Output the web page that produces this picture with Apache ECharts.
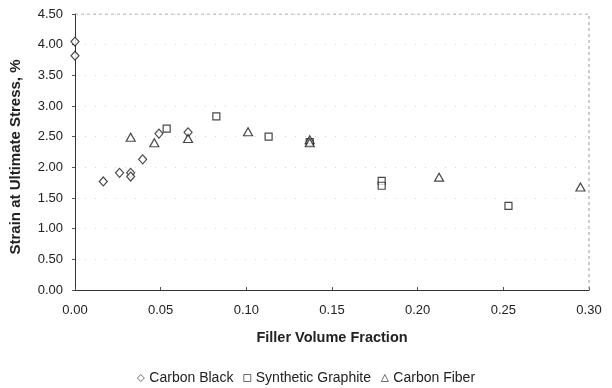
<!DOCTYPE html>
<html>
<head>
<meta charset="utf-8">
<script src="https://cdn.jsdelivr.net/npm/echarts@6/dist/echarts.min.js"></script>
<style>
  html, body { margin: 0; padding: 0; background: #fff; }
  #chart { width: 612px; height: 388px; }
</style>
</head>
<body>
<div id="chart"></div>
<script>
// values: [filler volume fraction, strain %]
const carbonBlack = [
  [0.0, 4.05], [0.0, 3.82], [0.0165, 1.77], [0.026, 1.91],
  [0.0325, 1.91], [0.0325, 1.85], [0.0395, 2.13], [0.049, 2.55],
  [0.066, 2.57]
];
const syntheticGraphite = [
  [0.0535, 2.63], [0.0825, 2.83], [0.113, 2.50], [0.137, 2.41],
  [0.179, 1.78], [0.179, 1.70], [0.253, 1.37]
];
const carbonFiber = [
  [0.0325, 2.49], [0.0463, 2.40], [0.066, 2.47], [0.101, 2.58],
  [0.137, 2.45], [0.137, 2.40], [0.2125, 1.84], [0.295, 1.68]
];
const seriesNames = ["Carbon Black", "Synthetic Graphite", "Carbon Fiber"];

const chart = echarts.init(document.getElementById("chart"));

const markerStyle = { color: "#fff", borderColor: "#1a1a1a", borderWidth: 1.2 };

chart.setOption({
  animation: false,
  textStyle: { fontFamily: "Liberation Sans, Arial, sans-serif" },
  grid: { left: 75, right: 23, top: 14, bottom: 98 },
  legend: {
    data: seriesNames,
    bottom: -2,
    left: "center",
    itemWidth: 7,
    itemHeight: 7,
    itemGap: 10,
    itemStyle: { borderWidth: 0.8 },
    textStyle: { fontSize: 14, color: "#222" },
  },
  xAxis: {
    type: "value",
    min: 0,
    max: 0.3,
    interval: 0.05,
    name: "Filler Volume Fraction",
    nameLocation: "middle",
    nameGap: 40,
    nameTextStyle: { fontSize: 14.5, fontWeight: "bold", color: "#222" },
    axisLine: { lineStyle: { color: "#333", width: 1 } },
    axisTick: { show: true, length: 3, inside: true, lineStyle: { color: "#555" } },
    axisLabel: { fontSize: 13, color: "#222", margin: 14, formatter: (v) => v.toFixed(2) },
    splitLine: { show: false },
  },
  yAxis: {
    type: "value",
    min: 0,
    max: 4.5,
    interval: 0.5,
    name: "Strain at Ultimate Stress, %",
    nameLocation: "middle",
    nameGap: 52,
    nameTextStyle: { fontSize: 15, fontWeight: "bold", color: "#222", padding: [0, 10, 0, 0] },
    axisLine: { lineStyle: { color: "#333", width: 1 } },
    axisTick: { show: true, length: 3, lineStyle: { color: "#555" } },
    axisLabel: { fontSize: 13, color: "#222", margin: 12, formatter: (v) => v.toFixed(2) },
    splitLine: { show: true, lineStyle: { color: "#d8d8d8", type: [1, 9], width: 1 } },
  },
  series: [
    {
      name: seriesNames[0],
      type: "scatter",
      symbol: "diamond",
      symbolSize: [8, 9],
      itemStyle: markerStyle,
      data: carbonBlack,
    },
    {
      name: seriesNames[1],
      type: "scatter",
      symbol: "rect",
      symbolSize: 7,
      itemStyle: markerStyle,
      data: syntheticGraphite,
    },
    {
      name: seriesNames[2],
      type: "scatter",
      symbol: "triangle",
      symbolSize: [9, 8],
      itemStyle: markerStyle,
      data: carbonFiber,
    },
    {
      // dashed frame on top and right of the plot area
      type: "line",
      silent: true,
      symbol: "none",
      lineStyle: { color: "#9a9a9a", width: 1, type: [3, 3] },
      data: [[0, 4.5], [0.3, 4.5], [0.3, 0]],
      z: 1,
    },
  ],
});
</script>
</body>
</html>
